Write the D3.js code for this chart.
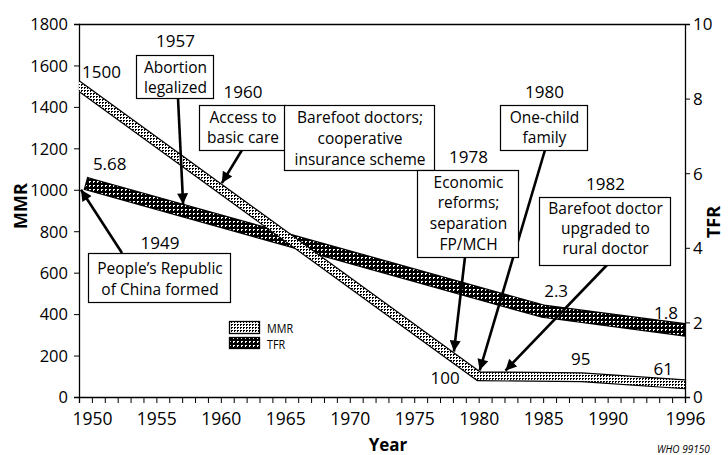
<!DOCTYPE html>
<html>
<head>
<meta charset="utf-8">
<script src="https://cdn.jsdelivr.net/npm/d3@7"></script>
<style>
  body { margin: 0; background: #fff; }
  text { font-family: "Open Sans", sans-serif; fill: #000; }
</style>
</head>
<body>
<script>
// chart values
const mmrYears = [1949, 1980, 1988, 1996];
const mmrValues = [1500, 100, 95, 61];
const tfrYears = [1950, 1985, 1996];
const tfrValues = [5.68, 2.3, 1.8];

const mmrTicks = [0, 200, 400, 600, 800, 1000, 1200, 1400, 1600, 1800];
const tfrTicks = [0, 2, 4, 6, 8, 10];
const yearLabels = [1950, 1955, 1960, 1965, 1970, 1975, 1980, 1985, 1990, 1996];

// value labels on the bands
const mmrLabels = ["1500", "100", "95", "61"];
const tfrLabels = ["5.68", "2.3", "1.8"];

// events written on the chart
const eventYears = ["1949", "1957", "1960", "", "1978", "1980", "1982"];
const eventTexts = [
    ["People\u2019s Republic", "of China formed"],
    ["Abortion", "legalized"],
    ["Access to", "basic care"],
    ["Barefoot doctors;", "cooperative", "insurance scheme"],
    ["Economic", "reforms;", "separation", "FP/MCH"],
    ["One-child", "family"],
    ["Barefoot doctor", "upgraded to", "rural doctor"]
];
const eventTargets = [1949, 1957, 1960, null, 1978, 1980, 1982];

// SVG size
const width = 728;
const height = 455;

const svg = d3.select("body")
    .append("svg")
    .attr("width", width)
    .attr("height", height);

// scales
const x = d3.scaleLinear().domain([1949, 1996]).range([79, 685]);
const yL = d3.scaleLinear().domain([0, 1800]).range([397, 24]);
const yR = d3.scaleLinear().domain([0, 10]).range([397, 24]);

// patterns
const defs = svg.append("defs");

const pMMR = defs.append("pattern")
    .attr("id", "pmmr")
    .attr("patternUnits", "userSpaceOnUse")
    .attr("width", 3).attr("height", 3);
pMMR.append("rect").attr("width", 3).attr("height", 3).attr("fill", "#fff");
pMMR.append("rect").attr("width", 2).attr("height", 1).attr("fill", "#000");
pMMR.append("rect").attr("width", 1).attr("height", 2).attr("fill", "#000");

const pTFR = defs.append("pattern")
    .attr("id", "ptfr")
    .attr("patternUnits", "userSpaceOnUse")
    .attr("width", 4).attr("height", 4);
pTFR.append("rect").attr("width", 4).attr("height", 4).attr("fill", "#000");
pTFR.append("rect").attr("x", 1).attr("y", 1).attr("width", 2).attr("height", 1).attr("fill", "#fff");
pTFR.append("rect").attr("x", 1).attr("y", 2).attr("width", 1).attr("height", 1).attr("fill", "#fff");

defs.append("clipPath").attr("id", "plot")
    .append("rect")
    .attr("x", 79).attr("y", 24)
    .attr("width", 606).attr("height", 373);

defs.append("marker")
    .attr("id", "head")
    .attr("viewBox", "0 0 10 10")
    .attr("refX", 10).attr("refY", 5)
    .attr("markerUnits", "userSpaceOnUse")
    .attr("markerWidth", 14).attr("markerHeight", 11)
    .attr("orient", "auto")
    .append("path")
    .attr("d", "M0,0 L10,5 L0,10 Z")
    .attr("fill", "#000");

// axes
svg.append("g")
    .attr("transform", "translate(79,0)")
    .call(d3.axisLeft(yL).tickValues(mmrTicks).tickSize(5).tickPadding(6).tickFormat(d3.format("d")))
    .call(g => g.selectAll("text").style("font-size", "16.5px").attr("dy", "0.35em"));

svg.append("g")
    .attr("transform", "translate(685,0)")
    .call(d3.axisRight(yR).tickValues(tfrTicks).tickSize(5).tickPadding(3))
    .call(g => g.selectAll("text").style("font-size", "17px").attr("dy", "0.35em"));

svg.append("g")
    .attr("transform", "translate(0,397)")
    .call(d3.axisBottom(x)
        .tickValues(d3.range(1949, 1997))
        .tickSize(6).tickPadding(10)
        .tickFormat(d => yearLabels.includes(d) ? d : ""))
    .call(g => g.selectAll("text").style("font-size", "17.5px"));

svg.selectAll(".domain").attr("stroke-width", 1.3);

// top frame
svg.append("line")
    .attr("x1", 79).attr("x2", 685)
    .attr("y1", 24.5).attr("y2", 24.5)
    .attr("stroke", "#000").attr("stroke-width", 1.3);

// bands
const mmrPts = mmrYears.map((d, i) => [x(d), yL(mmrValues[i])]);
const tfrPts = tfrYears.map((d, i) => [x(d), yR(tfrValues[i])]);
const line = d3.line();

const bands = svg.append("g").attr("clip-path", "url(#plot)");

function band(pts, w, pat) {
    bands.append("path").attr("d", line(pts))
        .attr("fill", "none").attr("stroke", "#000")
        .attr("stroke-width", w).attr("stroke-linecap", "square");
    bands.append("path").attr("d", line(pts))
        .attr("fill", "none").attr("stroke", pat)
        .attr("stroke-width", w - 2.4).attr("stroke-linecap", "square");
}
band(tfrPts, 13.5, "url(#ptfr)");
band(mmrPts, 10, "url(#pmmr)");

// value labels
const mmrLabelPos = [
    {dx: 3, dy: -8, anchor: "start"},
    {dx: -19, dy: 8, anchor: "end"},
    {dx: -1, dy: -12, anchor: "middle"},
    {dx: -12, dy: -9, anchor: "end"}
];
const tfrLabelPos = [
    {dx: 1, dy: -15, anchor: "start"},
    {dx: 1, dy: -14, anchor: "start"},
    {dx: -7, dy: -11, anchor: "end"}
];

svg.append("g").selectAll("text")
    .data(mmrLabels)
    .join("text")
    .attr("x", (d, i) => mmrPts[i][0] + mmrLabelPos[i].dx)
    .attr("y", (d, i) => mmrPts[i][1] + mmrLabelPos[i].dy)
    .attr("text-anchor", (d, i) => mmrLabelPos[i].anchor)
    .style("font-size", "17px")
    .text(d => d);

svg.append("g").selectAll("text")
    .data(tfrLabels)
    .join("text")
    .attr("x", (d, i) => tfrPts[i][0] + tfrLabelPos[i].dx)
    .attr("y", (d, i) => tfrPts[i][1] + tfrLabelPos[i].dy)
    .attr("text-anchor", (d, i) => tfrLabelPos[i].anchor)
    .style("font-size", "17px")
    .text(d => d);

// annotation boxes (layout)
const boxes = [
    {x: 88, y: 253, w: 142, h: 49, yearY: 249, lineY: [274, 295], from: [122, 253], on: "axis"},
    {x: 136, y: 55, w: 77, h: 43, yearY: 47, lineY: [73, 93], from: [178, 98], on: "tfr"},
    {x: 199, y: 105, w: 86, h: 45, yearY: 98, lineY: [123, 143], from: [242, 150], on: "mmr"},
    {x: 284, y: 105, w: 150, h: 65, yearY: 0, lineY: [123, 144, 165], from: null, on: null},
    {x: 417, y: 170, w: 101, h: 87, yearY: 163, lineY: [188, 208, 229, 250], from: [465, 257], on: "mmr"},
    {x: 500, y: 105, w: 87, h: 45, yearY: 98, lineY: [123, 143], from: [545, 150], on: "mmr"},
    {x: 539, y: 197, w: 131, h: 68, yearY: 190, lineY: [214, 234, 254], from: [607, 265], on: "mmr"}
];

const mmrAt = d3.scaleLinear().domain(mmrYears).range(mmrValues);
const tfrAt = d3.scaleLinear().domain(tfrYears).range(tfrValues);

function tipOf(i) {
    const yr = eventTargets[i];
    const b = boxes[i];
    if (b.on === "mmr") return [x(yr) + 1, yL(mmrAt(yr)) - 6];
    if (b.on === "tfr") return [x(yr) + 1, yR(tfrAt(yr)) - 6];
    return [x(yr) + 2, yL(1000)];
}

const ann = svg.append("g");
boxes.forEach((b, i) => {
    if (b.from) {
        const t = tipOf(i);
        ann.append("line")
            .attr("x1", b.from[0]).attr("y1", b.from[1])
            .attr("x2", t[0]).attr("y2", t[1])
            .attr("stroke", "#000").attr("stroke-width", 2.6)
            .attr("marker-end", "url(#head)");
    }
});
boxes.forEach((b, i) => {
    ann.append("rect")
        .attr("x", b.x + 0.5).attr("y", b.y + 0.5)
        .attr("width", b.w).attr("height", b.h)
        .attr("fill", "#fff").attr("stroke", "#000").attr("stroke-width", 1.2);
    eventTexts[i].forEach((t, j) => {
        ann.append("text")
            .attr("x", b.x + b.w / 2 + 1)
            .attr("y", b.lineY[j])
            .attr("text-anchor", "middle")
            .style("font-size", "15.5px")
            .text(t);
    });
    if (eventYears[i]) {
        ann.append("text")
            .attr("x", b.x + b.w / 2 + 1)
            .attr("y", b.yearY)
            .attr("text-anchor", "middle")
            .style("font-size", "17px")
            .text(eventYears[i]);
    }
});

// legend
const legend = svg.append("g");
legend.append("rect").attr("x", 229.5).attr("y", 321.5).attr("width", 30).attr("height", 12)
    .attr("fill", "url(#pmmr)").attr("stroke", "#000").attr("stroke-width", 1.3);
legend.append("rect").attr("x", 229.5).attr("y", 337.5).attr("width", 30).attr("height", 11)
    .attr("fill", "url(#ptfr)").attr("stroke", "#000").attr("stroke-width", 1.3);
legend.append("text")
    .attr("transform", "translate(267,333) scale(0.8,1)")
    .style("font-size", "13.5px").text("MMR");
legend.append("text")
    .attr("transform", "translate(267,349) scale(0.8,1)")
    .style("font-size", "13.5px").text("TFR");

// axis titles
svg.append("text")
    .attr("transform", "translate(27,206) rotate(-90)")
    .attr("text-anchor", "middle")
    .style("font-size", "18px").style("font-weight", "bold")
    .text("MMR");

svg.append("text")
    .attr("transform", "translate(720,222) rotate(-90)")
    .attr("text-anchor", "middle")
    .style("font-size", "18px").style("font-weight", "bold")
    .text("TFR");

svg.append("text")
    .attr("x", 388).attr("y", 451)
    .attr("text-anchor", "middle")
    .style("font-size", "17px").style("font-weight", "bold")
    .text("Year");

svg.append("text")
    .attr("x", 657).attr("y", 453)
    .style("font-size", "10px").style("font-style", "italic")
    .text("WHO 99150");
</script>
</body>
</html>
